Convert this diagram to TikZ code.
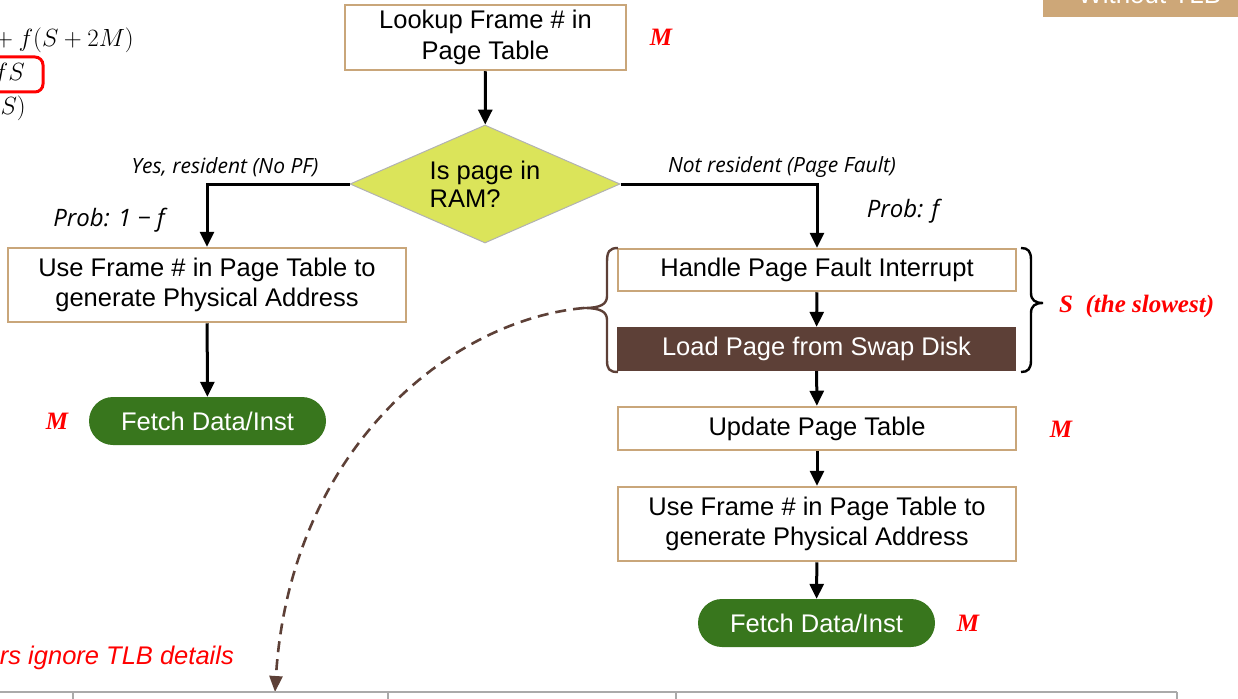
\documentclass[tikz,border=0pt]{standalone}
\usepackage{fontspec}
\setmainfont{Liberation Sans}
\newfontfamily\osfont{Open Sans}
\newfontfamily\serfont{Liberation Serif}
\usetikzlibrary{arrows.meta,shapes.geometric}
\definecolor{tanb}{RGB}{201,166,122}
\definecolor{tanfill}{RGB}{205,167,120}
\definecolor{diafill}{RGB}{219,228,90}
\definecolor{fgreen}{RGB}{56,118,29}
\definecolor{dbrown}{RGB}{93,64,55}
\definecolor{tblgray}{RGB}{170,170,170}
\tikzset{
  box/.style={draw=tanb, line width=2.5pt, fill=white, inner sep=0pt, align=center,
    font=\fontsize{25.5}{30.5}\selectfont},
  darkbox/.style={fill=dbrown, text=white, inner sep=0pt, align=center,
    font=\fontsize{25.5}{30.5}\selectfont},
  arr/.style={line width=3pt, -{Triangle[width=14pt,length=15pt]}},
  fetch/.style={fill=fgreen, rounded corners=24pt, minimum width=237pt, minimum height=48pt,
    inner sep=0pt, text=white, font=\fontsize{25.5}{30}\selectfont},
  mlab/.style={text=red, inner sep=0pt, font=\serfont\bfseries\itshape\fontsize{25}{28}\selectfont},
  ilab/.style={inner sep=0pt, font=\osfont\itshape\fontsize{21}{24}\selectfont},
  plab/.style={inner sep=0pt, font=\osfont\itshape\fontsize{24}{28}\selectfont},
  mathlab/.style={inner sep=0pt, font=\fontsize{25}{30}\selectfont},
}
\begin{document}
\begin{tikzpicture}[x=1pt,y=-1pt]
\useasboundingbox (0,0) rectangle (1238,698);

% top-right tab (cut off)
\fill[tanfill] (1043,-10) rectangle (1238,17);
\node[anchor=base west, inner sep=0pt, text=white, font=\fontsize{26}{30}\selectfont] (tab) at (1078,3.5) {Without TLB};

% top-left formulas (cut off)
\node[mathlab, anchor=east] (eq1) at (134,40) {$\mkern-3mu{}+f(S+2M)$};
\node[mathlab, anchor=east] (eq2) at (25,74) {$fS$};
\node[mathlab, anchor=east] (eq3) at (26,108) {$S)$};
\draw[red, line width=3pt, rounded corners=8pt] (-12,57) rectangle (43,92);

% main flow
\node[box, minimum width=281pt, minimum height=65pt] (lookup) at (485.5,37.5) {Lookup Frame \# in\\Page Table};
\node[mlab] (m1) at (661,37) {M};

\node[diamond, aspect=2.3, draw=black!30, line width=1pt, fill=diafill, minimum width=270pt, minimum height=118pt,
  inner sep=0pt, align=left, font=\fontsize{25.5}{28}\selectfont] (dia) at (485,184) {Is page in\\RAM?};

\draw[arr] (lookup) -- (dia);

% left branch
\node[box, minimum width=398pt, minimum height=74pt] (lbox) at (207,285) {Use Frame \# in Page Table to\\generate Physical Address};
\node[fetch] (lfetch) at (207.5,421) {Fetch Data/Inst};
\node[mlab] (m2) at (57,421) {M};
\draw[arr] (dia.west) -| (lbox.north);
\draw[arr] (lbox) -- (lfetch);
\node[ilab] (yes) at (225,167) {Yes, resident (No PF)};
\node[plab] (p1) at (109,220) {Prob: 1 − f};

% right branch
\node[box, minimum width=398pt, minimum height=42pt] (hpf) at (817,270) {Handle Page Fault Interrupt};
\node[darkbox, minimum width=399pt, minimum height=44pt] (load) at (816.5,349) {Load Page from Swap Disk};
\node[box, minimum width=398pt, minimum height=43pt] (upd) at (817,428.5) {Update Page Table};
\node[box, minimum width=398pt, minimum height=74pt] (rbox) at (817,524) {Use Frame \# in Page Table to\\generate Physical Address};
\node[fetch] (rfetch) at (816.5,623) {Fetch Data/Inst};
\node[mlab] (m3) at (1061,429) {M};
\node[mlab] (m4) at (968,623) {M};
\draw[arr] (dia.east) -| (hpf.north);
\draw[arr] (hpf) -- (load);
\draw[arr] (load) -- (upd);
\draw[arr] (upd) -- (rbox);
\draw[arr] (rbox) -- (rfetch);
\node[ilab] (no) at (782,167) {Not resident (Page Fault)};
\node[plab] (p2) at (903,211) {Prob: f};

% braces
\draw[dbrown, line width=2.4pt] (618,248) .. controls (609,248) and (607,252) .. (607,262) -- (607,296)
  .. controls (607,304) and (601,308) .. (584,308) .. controls (601,308) and (607,312) .. (607,320)
  -- (607,360) .. controls (607,369) and (609,372) .. (618,372);
\draw[black, line width=2.4pt] (1021,248) .. controls (1028,248) and (1031,251) .. (1031,260) -- (1031,293)
  .. controls (1031,300) and (1035,303) .. (1043,303) .. controls (1035,303) and (1031,306) .. (1031,313)
  -- (1031,360) .. controls (1031,369) and (1028,372) .. (1021,372);
\node[mlab, anchor=west] (slow) at (1059,306) {S\ \ (the slowest)};

% dashed curve
\coordinate (btip) at (584,308);
\coordinate (dend) at (275,692);
\draw[dbrown, line width=2.6pt, dash pattern=on 11pt off 7pt, -{Triangle[width=13pt,length=16pt]}]
  (btip) .. controls (450,320) and (290,450) .. (dend);

\node[anchor=east, inner sep=0pt, text=red, font=\itshape\fontsize{25.5}{28}\selectfont] (tlb) at (234,658) {rs ignore TLB details};

% table lines at bottom
\draw[tblgray, line width=1.5pt] (-2,692) -- (1177,692);
\foreach \xx in {73,388,676,1177} \draw[tblgray, line width=1.5pt] (\xx,692) -- (\xx,700);
\end{tikzpicture}
\end{document}
